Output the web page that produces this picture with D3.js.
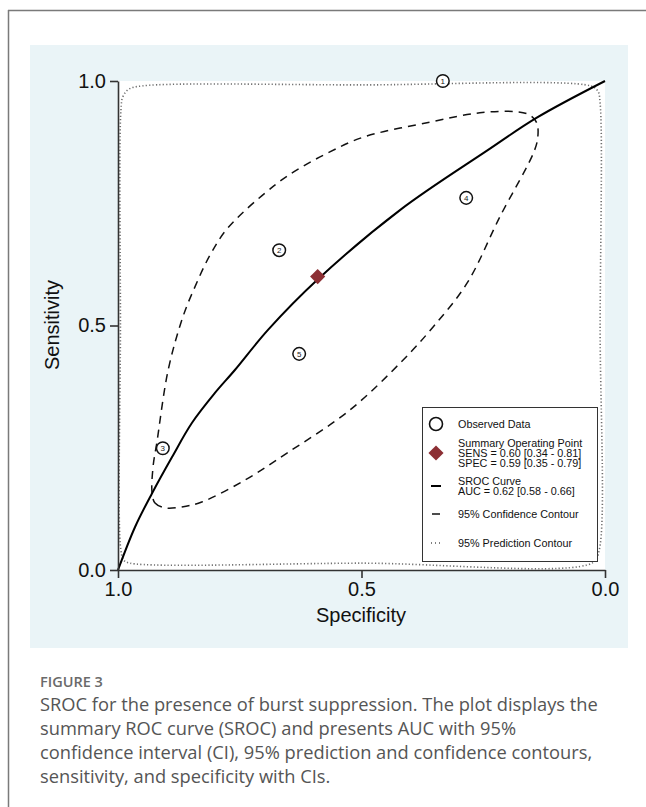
<!DOCTYPE html>
<html>
<head>
<meta charset="utf-8">
<script src="https://cdn.jsdelivr.net/npm/d3@7"></script>
<style>
  html, body { margin: 0; padding: 0; background: #ffffff; }
  svg { display: block; }
</style>
</head>
<body>
<svg id="chart" width="646" height="807"></svg>
<script>
// ---------------- data ----------------
const xTicks = [1.0, 0.5, 0.0];
const yTicks = [0.0, 0.5, 1.0];

const studyIds  = [1, 2, 3, 4, 5];
const studySpec = [0.333, 0.669, 0.908, 0.285, 0.628];
const studySens = [1.000, 0.654, 0.249, 0.761, 0.442];

const summarySpec = 0.59;
const summarySens = 0.60;

// SROC curve (specificity, sensitivity)
const srocSpec = [1.000, 0.965, 0.930, 0.889, 0.848, 0.801, 0.760, 0.692, 0.589, 0.421, 0.240, 0.140, 0.000];
const srocSens = [0.000, 0.088, 0.157, 0.231, 0.301, 0.362, 0.409, 0.491, 0.595, 0.736, 0.859, 0.925, 1.000];

// 95% confidence contour (closed)
const confSpec = [0.930, 0.924, 0.903, 0.869, 0.828, 0.739, 0.653, 0.524, 0.415, 0.353, 0.283, 0.216, 0.146, 0.138, 0.140, 0.154, 0.181, 0.257, 0.359, 0.497, 0.565, 0.626, 0.678, 0.774, 0.811, 0.842, 0.867, 0.897, 0.920, 0.928];
const confSens = [0.157, 0.137, 0.127, 0.129, 0.139, 0.184, 0.239, 0.327, 0.429, 0.497, 0.587, 0.722, 0.855, 0.885, 0.914, 0.930, 0.937, 0.935, 0.916, 0.885, 0.855, 0.822, 0.787, 0.700, 0.644, 0.579, 0.517, 0.409, 0.262, 0.211];

// 95% prediction contour (closed)
const predSpec = [0.994, 0.990, 0.978, 0.950, 0.500, 0.030, 0.015, 0.010, 0.010, 0.012, 0.025, 0.500, 0.975, 0.988, 0.994, 0.995];
const predSens = [0.940, 0.968, 0.983, 0.990, 0.992, 0.990, 0.980, 0.955, 0.500, 0.040, 0.015, 0.014, 0.014, 0.020, 0.040, 0.500];

const legendLabels = [
  ["Observed Data"],
  ["Summary Operating Point", "SENS = 0.60 [0.34 - 0.81]", "SPEC = 0.59 [0.35 - 0.79]"],
  ["SROC Curve", "AUC = 0.62 [0.58 - 0.66]"],
  ["95% Confidence Contour"],
  ["95% Prediction Contour"]
];

const xLabel = "Specificity";
const yLabel = "Sensitivity";
const figLabel = "FIGURE 3";
const captionLines = [
  "SROC for the presence of burst suppression. The plot displays the",
  "summary ROC curve (SROC) and presents AUC with 95%",
  "confidence interval (CI), 95% prediction and confidence contours,",
  "sensitivity, and specificity with CIs."
];

// ---------------- drawing ----------------
const svg = d3.select("#chart");
const FONT = "'Liberation Sans', Arial, sans-serif";

// outer frame
svg.append("line").attr("x1", 8).attr("x2", 646).attr("y1", 10.5).attr("y2", 10.5)
  .attr("stroke", "#7a7a7a").attr("stroke-width", 1.5);
svg.append("line").attr("x1", 8.5).attr("x2", 8.5).attr("y1", 10).attr("y2", 807)
  .attr("stroke", "#7a7a7a").attr("stroke-width", 1.5);

// light blue panel
svg.append("rect").attr("x", 30).attr("y", 45).attr("width", 598).attr("height", 603)
  .attr("fill", "#eaf4f7");

const x = d3.scaleLinear().domain([1, 0]).range([118, 605]);
const y = d3.scaleLinear().domain([0, 1]).range([570, 81]);

// white plotting area
svg.append("rect").attr("x", x(1)).attr("y", y(1))
  .attr("width", x(0) - x(1)).attr("height", y(0) - y(1)).attr("fill", "#ffffff");

// prediction contour
const predPts = predSpec.map((s, i) => [x(s), y(predSens[i])]);
svg.append("path")
  .attr("d", d3.line().curve(d3.curveCatmullRomClosed.alpha(0.5))(predPts))
  .attr("fill", "none").attr("stroke", "#6e6e6e").attr("stroke-width", 1.6)
  .attr("stroke-dasharray", "1.2,2.2");

// confidence contour
const confPts = confSpec.map((s, i) => [x(s), y(confSens[i])]);
svg.append("path")
  .attr("d", d3.line().curve(d3.curveCatmullRomClosed.alpha(0.5))(confPts))
  .attr("fill", "none").attr("stroke", "#111").attr("stroke-width", 1.5)
  .attr("stroke-dasharray", "8,6");

// SROC curve
const srocPts = srocSpec.map((s, i) => [x(s), y(srocSens[i])]);
svg.append("path")
  .attr("d", d3.line().curve(d3.curveCatmullRom.alpha(0.5))(srocPts))
  .attr("fill", "none").attr("stroke", "#000").attr("stroke-width", 2);

// axes
const yAxis = d3.axisLeft(y).tickValues(yTicks).tickFormat(d3.format(".1f"))
  .tickSize(8).tickSizeOuter(0).tickPadding(4);
const xAxis = d3.axisBottom(x).tickValues(xTicks).tickFormat(d3.format(".1f"))
  .tickSize(8).tickSizeOuter(0).tickPadding(4);

const gy = svg.append("g").attr("transform", `translate(${x(1)},0)`).call(yAxis);
const gx = svg.append("g").attr("transform", `translate(0,${y(0)})`).call(xAxis);
[gx, gy].forEach(g => {
  g.select(".domain").attr("stroke", "#333").attr("stroke-width", 1.6);
  g.selectAll(".tick line").attr("stroke", "#333").attr("stroke-width", 1.6);
  g.selectAll(".tick text").attr("font-family", FONT).attr("font-size", 20).attr("fill", "#111");
});

// axis titles
svg.append("text").attr("x", 361).attr("y", 622).attr("text-anchor", "middle")
  .attr("font-family", FONT).attr("font-size", 20).attr("fill", "#111").text(xLabel);
svg.append("text").attr("transform", "translate(59,325) rotate(-90)").attr("text-anchor", "middle")
  .attr("font-family", FONT).attr("font-size", 20).attr("fill", "#111").text(yLabel);

// studies
const sg = svg.append("g");
studyIds.forEach((id, i) => {
  const cx = x(studySpec[i]), cy = y(studySens[i]);
  sg.append("circle").attr("cx", cx).attr("cy", cy).attr("r", 6.3)
    .attr("fill", "#fff").attr("stroke", "#111").attr("stroke-width", 1.5);
  sg.append("text").attr("x", cx).attr("y", cy + 3).attr("text-anchor", "middle")
    .attr("font-family", FONT).attr("font-size", 8).attr("fill", "#222").text(id);
});

// summary point
const diamond = d3.symbol().type(d3.symbolSquare).size(115);
svg.append("path").attr("d", diamond())
  .attr("transform", `translate(${x(summarySpec)},${y(summarySens)}) rotate(45)`)
  .attr("fill", "#8c2f34");

// legend
const lg = svg.append("g");
lg.append("rect").attr("x", 422.5).attr("y", 407.5).attr("width", 175).attr("height", 154)
  .attr("fill", "#fff").attr("stroke", "#333").attr("stroke-width", 1);
const itemY = [424, 453, 486, 514, 543];
const lineH = 9.8;
legendLabels.forEach((lines, i) => {
  const cy = itemY[i];
  const y0 = cy - (lines.length - 1) * lineH / 2;
  lines.forEach((t, j) => {
    lg.append("text").attr("x", 458).attr("y", y0 + j * lineH + 3.8)
      .attr("font-family", FONT).attr("font-size", 10.8).attr("fill", "#111").text(t);
  });
});
lg.append("circle").attr("cx", 436).attr("cy", itemY[0]).attr("r", 6.5)
  .attr("fill", "#fff").attr("stroke", "#111").attr("stroke-width", 1.6);
lg.append("path").attr("d", diamond())
  .attr("transform", `translate(436,${itemY[1]}) rotate(45)`).attr("fill", "#8c2f34");
lg.append("line").attr("x1", 431).attr("x2", 441).attr("y1", itemY[2]).attr("y2", itemY[2])
  .attr("stroke", "#000").attr("stroke-width", 2);
lg.append("line").attr("x1", 432).attr("x2", 440).attr("y1", itemY[3]).attr("y2", itemY[3])
  .attr("stroke", "#111").attr("stroke-width", 1.5);
lg.append("line").attr("x1", 431).attr("x2", 442).attr("y1", itemY[4]).attr("y2", itemY[4])
  .attr("stroke", "#555").attr("stroke-width", 1.3).attr("stroke-dasharray", "1,3");

// caption
svg.append("text").attr("x", 40).attr("y", 687)
  .attr("font-family", "'Open Sans', sans-serif").attr("font-size", 14.5).attr("font-weight", 600)
  .attr("fill", "#6a6a6a").text(figLabel);
captionLines.forEach((t, i) => {
  svg.append("text").attr("x", 40).attr("y", 711 + i * 24)
    .attr("font-family", "'Open Sans', sans-serif").attr("font-size", 18.3)
    .attr("fill", "#555").text(t);
});
</script>
</body>
</html>
